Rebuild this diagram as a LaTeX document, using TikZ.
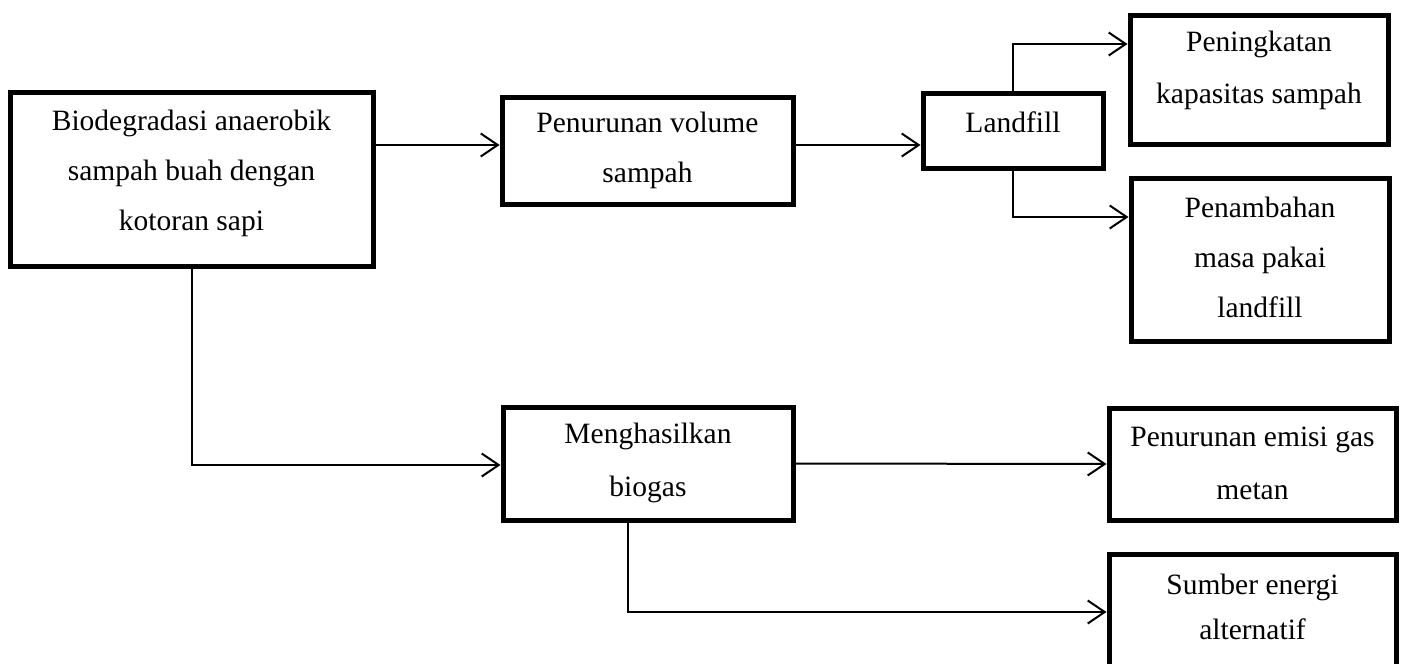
\documentclass[tikz,border=0pt]{standalone}
\usepackage{fontspec}
\setmainfont{Liberation Serif}
\usetikzlibrary{arrows.meta,calc}
\begin{document}
\begin{tikzpicture}[x=1pt,y=-1pt,
  box/.style={draw=black,line width=5pt,rectangle,inner sep=0pt},
  txt/.style={align=center,inner sep=0pt,font=\fontsize{29.5}{50}\selectfont},
  arr/.style={draw=black,line width=2pt,-{Straight Barb[length=17pt,width=23pt,line width=2pt]}}]
\useasboundingbox (0,0) rectangle (1403,664);
% boxes
\node[box,minimum width=363pt,minimum height=174pt] (b1) at (191.5,179) {};
\node[box,minimum width=291pt,minimum height=107pt] (b2) at (647.5,150.5) {};
\node[box,minimum width=180pt,minimum height=75pt] (land) at (1013,130.5) {};
\node[box,minimum width=258pt,minimum height=129pt] (pen) at (1259,79.5) {};
\node[box,minimum width=258pt,minimum height=163pt] (pmb) at (1260,259.5) {};
\node[box,minimum width=290pt,minimum height=113pt] (men) at (648,463.5) {};
\node[box,minimum width=287pt,minimum height=112pt] (emi) at (1252.5,464) {};
\node[box,minimum width=287pt,minimum height=126pt] (sum) at (1252.5,617) {};
% texts
\node[txt] (t1) at (191.5,173) {Biodegradasi anaerobik\\sampah buah dengan\\kotoran sapi};
\node[txt] (t2) at (647.5,150) {Penurunan volume\\sampah};
\node[txt] (t3) at (1013,122) {Landfill};
\node[txt,font=\fontsize{29.5}{52}\selectfont] (t4) at (1259,70) {Peningkatan\\kapasitas sampah};
\node[txt] (t5) at (1260,257) {Penambahan\\masa pakai\\landfill};
\node[txt,font=\fontsize{29.5}{53}\selectfont] (t6) at (648,463) {Menghasilkan\\biogas};
\node[txt,font=\fontsize{29.5}{53}\selectfont] (t7) at (1252.5,463) {Penurunan emisi gas\\metan};
\node[txt,font=\fontsize{29.5}{45}\selectfont] (t8) at (1252.5,607) {Sumber energi\\alternatif};
% connectors
\draw[arr] (b1.east |- 0,145) -- (b2.west |- 0,145);
\draw[arr] (b2.east |- 0,145) -- (land.west |- 0,145);
\draw[arr] (land.north) -- (land.north |- 0,44) -- (pen.west |- 0,44);
\draw[arr] (land.south) -- (land.south |- 0,217) -- (pmb.west |- 0,217);
\draw[arr] (b1.south -| 192,0) -- (192,465) -- (men.west |- 0,465);
\draw[arr] (men.east) -- (emi.west);
\draw[arr] (men.south -| 628,0) -- (628,612) -- (sum.west |- 0,612);
\end{tikzpicture}
\end{document}
